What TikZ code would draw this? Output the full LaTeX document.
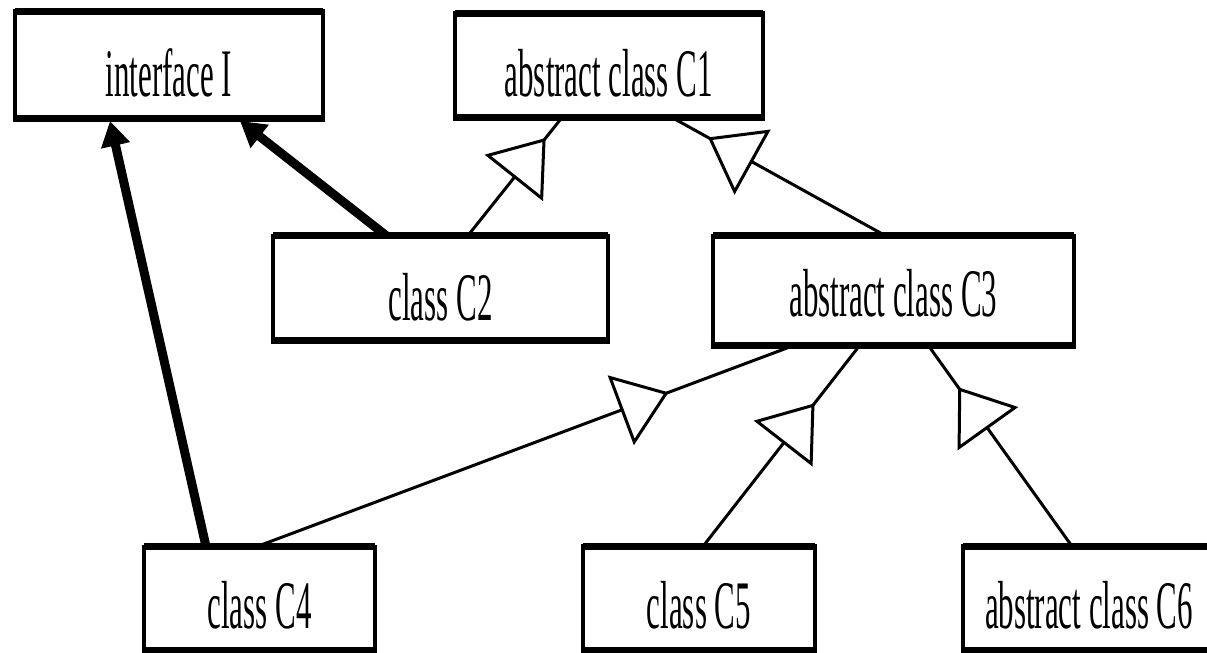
\documentclass[tikz,border=0pt]{standalone}
\usepackage{fontspec}
\usepackage{graphicx}
\setmainfont{Liberation Serif}
\usetikzlibrary{arrows.meta,decorations.markings}

% narrow, tall lettering used inside the class boxes
\newcommand{\narrowtext}[1]{\scalebox{0.455}[1]{#1}}

\begin{document}
\begin{tikzpicture}[x=0.5pt,y=-0.5pt,
  umlbox/.style n args={3}{draw, line width=2pt, inner sep=0pt, outer sep=0pt,
    minimum width=#1, text height=#2, text depth=#3,
    font=\fontsize{34pt}{40pt}\selectfont},
  hedge/.style={line width=3.5pt, shorten <=-1pt, shorten >=-1pt},
  realizes/.style={line width=4.5pt, -{Triangle[length=12.5pt,width=14pt]}},
  inherit/.style={line width=1.5pt, postaction={decorate},
    decoration={markings, mark=at position #1 with
      {\arrow{Triangle[fill=white,length=25.5pt,width=37pt,line width=1.5pt]}}}}
]
\clip (0,0) rectangle (1207,653);
\fill[white] (0,0) rectangle (1207,653);

% class boxes
\node[umlbox={154.15pt}{43pt}{10.5pt}]       (I)  at (168.9,64.5)  {\narrowtext{interface I}};
\node[umlbox={154.25pt}{41.85pt}{10.4pt}]    (C1) at (608.75,65.25) {\narrowtext{abstract class C1}};
\node[umlbox={167.5pt}{42.25pt}{10pt}]       (C2) at (440.5,287.75) {\narrowtext{class C2}};
\node[umlbox={180.75pt}{40.6pt}{14.15pt}]    (C3) at (893.25,290.25) {\narrowtext{abstract class C3}};
\node[umlbox={115.5pt}{40.75pt}{11.25pt}]    (C4) at (259.5,598.5) {\narrowtext{class C4}};
\node[umlbox={115.85pt}{41pt}{11.1pt}]       (C5) at (698.9,598.4) {\narrowtext{class C5}};
\node[umlbox={126pt}{41pt}{11.1pt}]          (C6) at (1089,598.4)  {\narrowtext{abstract class C6}};

% heavier top and bottom edges
\foreach \n in {I,C1,C2,C3,C4,C5,C6}
  \draw[hedge] (\n.north west) -- (\n.north east) (\n.south west) -- (\n.south east);

% generalisation links with hollow triangles
\draw[inherit=0.826] ([xshift=97.5pt]C2.north west)  -- ([xshift=53.75pt]C1.south west);
\draw[inherit=0.831] ([xshift=86.25pt]C3.north west) -- ([xshift=108.75pt]C1.south west);
\draw[inherit=0.765] ([xshift=56.5pt]C4.north west)  -- ([xshift=41.25pt]C3.south west);
\draw[inherit=0.71]  ([xshift=60pt]C5.north west)    -- ([xshift=73.75pt]C3.south west);
\draw[inherit=0.79]  ([xshift=54.5pt]C6.north west)  -- ([xshift=107.75pt]C3.south west);

% interface realisation arrows
\draw[realizes] ([xshift=31pt]C4.north west)   -- ([xshift=47.65pt,yshift=-1.5pt]I.south west);
\draw[realizes] ([xshift=56.5pt]C2.north west) -- ([xshift=112.65pt,yshift=-1.5pt]I.south west);
\end{tikzpicture}
\end{document}
